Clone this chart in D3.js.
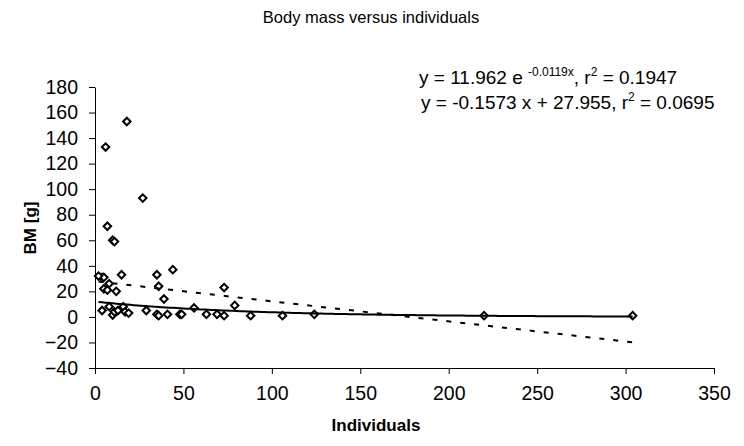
<!DOCTYPE html>
<html lang="en">

<head>
    <meta charset="UTF-8">
    <title>Body mass versus individuals</title>
    <script src="https://cdn.jsdelivr.net/npm/d3@7"></script>
    <style>
        body { margin: 0; background: #fff; }
        text { font-family: "Liberation Sans", Arial, sans-serif; fill: #000; }
    </style>
</head>

<body>
    <svg id="chart" width="744" height="446"></svg>

    <script>
        // individuals (x) and body mass in g (y)
        const individuals = [6, 18, 7, 27, 10, 11, 4, 5, 2, 8, 5, 7, 12, 15, 35, 36, 44, 39, 73, 79,
            4, 8, 10, 11, 13, 16, 17, 19, 29, 35, 36, 41, 48, 49, 56, 63, 69, 73, 88,
            106, 124, 220, 304]
        const bodyMass = [133, 153, 71, 93, 60, 59, 31, 31, 32, 26, 22, 21, 20, 33, 33, 24, 37, 14, 23, 9,
            5, 8, 1.5, 4, 5, 8, 4, 3, 5, 2, 1, 2, 2, 2, 7, 2, 2, 1, 1,
            1, 2, 1, 1]

        const xTicks = [0, 50, 100, 150, 200, 250, 300, 350]
        const yTicks = [-40, -20, 0, 20, 40, 60, 80, 100, 120, 140, 160, 180]

        // trendline coefficients as printed on the chart
        const expFit = { a: 11.962, b: -0.0119 }
        const linFit = { m: -0.1573, c: 27.955 }

        const svg = d3.select('#chart')

        const x = d3.scaleLinear().domain([0, 350]).range([95, 714])
        const y = d3.scaleLinear().domain([-40, 180]).range([368, 87])

        // axes
        svg.append('g')
            .attr('transform', 'translate(0,368)')
            .call(d3.axisBottom(x).tickValues(xTicks).tickSize(6).tickSizeOuter(0).tickPadding(12))
            .call(g => g.select('.domain').attr('stroke', '#000'))
            .call(g => g.selectAll('text').attr('font-size', 19.5).attr('font-family', '"Liberation Sans", Arial, sans-serif'))

        svg.append('g')
            .attr('transform', 'translate(95,0)')
            .call(d3.axisLeft(y).tickValues(yTicks).tickSize(6).tickSizeOuter(0).tickPadding(11))
            .call(g => g.select('.domain').attr('stroke', '#000'))
            .call(g => g.selectAll('text').attr('font-size', 19.5).attr('font-family', '"Liberation Sans", Arial, sans-serif'))

        // data points as open diamonds
        const pts = individuals.map((d, i) => [d, bodyMass[i]])

        svg.append('g')
            .selectAll('path')
            .data(pts)
            .join('path')
            .attr('transform', d => `translate(${x(d[0])},${y(d[1])}) rotate(45)`)
            .attr('d', d3.symbol().type(d3.symbolSquare).size(28))
            .attr('fill', '#fff')
            .attr('stroke', '#000')
            .attr('stroke-width', 2)

        // trendlines across the data range
        const xMin = d3.min(individuals), xMax = d3.max(individuals)
        const xs = d3.range(xMin, xMax + 1, 2)
        const line = d3.line().x(d => x(d[0])).y(d => y(d[1]))

        svg.append('path')
            .datum(xs.map(v => [v, expFit.a * Math.exp(expFit.b * v)]))
            .attr('d', line)
            .attr('fill', 'none')
            .attr('stroke', '#000')
            .attr('stroke-width', 2)

        svg.append('path')
            .datum([[xMin, linFit.m * xMin + linFit.c], [xMax, linFit.m * xMax + linFit.c]])
            .attr('d', line)
            .attr('fill', 'none')
            .attr('stroke', '#000')
            .attr('stroke-width', 2)
            .attr('stroke-dasharray', '5,9')

        // titles
        svg.append('text')
            .attr('x', 371).attr('y', 23)
            .attr('text-anchor', 'middle')
            .attr('font-size', 16.5)
            .text('Body mass versus individuals')

        svg.append('text')
            .attr('x', 376).attr('y', 431)
            .attr('text-anchor', 'middle')
            .attr('font-size', 17)
            .attr('font-weight', 'bold')
            .text('Individuals')

        svg.append('text')
            .attr('transform', 'translate(36,228) rotate(-90)')
            .attr('text-anchor', 'middle')
            .attr('font-size', 17)
            .attr('font-weight', 'bold')
            .text('BM [g]')

        // trendline equations
        const eq1 = svg.append('text').attr('x', 419).attr('y', 84).attr('font-size', 19)
        eq1.append('tspan').text('y = 11.962 e ')
        eq1.append('tspan').attr('dy', -8).attr('font-size', 12).text('-0.0119x')
        eq1.append('tspan').attr('dy', 8).text(', r')
        eq1.append('tspan').attr('dy', -8).attr('font-size', 12).text('2')
        eq1.append('tspan').attr('dy', 8).text(' = 0.1947')

        const eq2 = svg.append('text').attr('x', 421).attr('y', 109).attr('font-size', 19)
        eq2.append('tspan').text('y = -0.1573 x + 27.955, r')
        eq2.append('tspan').attr('dy', -8).attr('font-size', 12).text('2')
        eq2.append('tspan').attr('dy', 8).text(' = 0.0695')
    </script>
</body>

</html>
